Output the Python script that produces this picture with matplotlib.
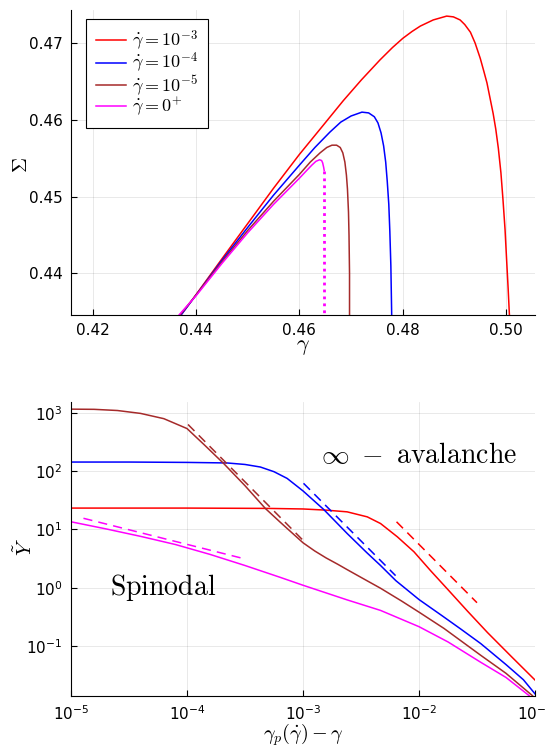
import numpy as np
import matplotlib
matplotlib.use("Agg")
from matplotlib import pyplot as plt

plt.rcParams['mathtext.fontset'] = 'cm'
plt.rcParams['font.family'] = ['DejaVu Sans']

RED = '#FF0000'
BLUE = '#0000FF'
BROWN = '#A52A2A'
MAGENTA = '#FF00FF'

# ---- top panel: stress vs strain ----
gamma_red = [0.4355, 0.4392, 0.4450, 0.4500, 0.4550, 0.4600, 0.4645, 0.4685, 0.4720, 0.4756,
             0.4780, 0.4800, 0.4818, 0.4834, 0.4859, 0.4885, 0.4898, 0.4911, 0.4920, 0.4931,
             0.4940, 0.4950, 0.4957, 0.4963, 0.4969, 0.4975, 0.4980, 0.4985, 0.4990, 0.4994,
             0.4998, 0.5001, 0.5004, 0.5006, 0.5008]
sigma_red = [0.4332, 0.4365, 0.4419, 0.4465, 0.4511, 0.4555, 0.4592, 0.4625, 0.4652, 0.4678,
             0.4694, 0.4706, 0.4715, 0.4722, 0.4730, 0.4735, 0.4734, 0.4730, 0.4724, 0.4714,
             0.4700, 0.4680, 0.4663, 0.4648, 0.4628, 0.4608, 0.4588, 0.4563, 0.4531, 0.4496,
             0.4457, 0.4418, 0.4380, 0.4352, 0.4325]

gamma_blue = [0.4356, 0.4371, 0.4400, 0.4450, 0.4500, 0.4550, 0.4600, 0.4630, 0.4659, 0.4680,
              0.4700, 0.4721, 0.4734, 0.4745, 0.4752, 0.4758, 0.4763, 0.4767, 0.4770, 0.4773,
              0.4775, 0.4777, 0.4778, 0.4779]
sigma_blue = [0.4332, 0.4346, 0.4372, 0.4417, 0.4460, 0.4502, 0.4541, 0.4564, 0.4584, 0.4597,
              0.4605, 0.4610, 0.4609, 0.4604, 0.4596, 0.4583, 0.4566, 0.4545, 0.4520, 0.4490,
              0.4455, 0.4410, 0.4370, 0.4330]

gamma_brown = [0.4355, 0.4369, 0.4400, 0.4450, 0.4500, 0.4550, 0.4600, 0.4621, 0.4640, 0.4653,
               0.4663, 0.4672, 0.4679, 0.4684, 0.4688, 0.4691, 0.4693, 0.4695, 0.4696, 0.4697,
               0.4697]
sigma_brown = [0.4332, 0.4346, 0.4372, 0.4415, 0.4456, 0.4494, 0.4529, 0.4545, 0.4557, 0.4564,
               0.4567, 0.4567, 0.4564, 0.4557, 0.4545, 0.4528, 0.4510, 0.4480, 0.4450, 0.4400,
               0.4330]

gamma_mag = [0.4353, 0.4367, 0.4400, 0.4450, 0.4500, 0.4550, 0.4600, 0.4614, 0.4624, 0.4632,
             0.4639, 0.4643, 0.4645, 0.4647, 0.4648]
sigma_mag = [0.4332, 0.4346, 0.4371, 0.4413, 0.4453, 0.4490, 0.4524, 0.4534, 0.4541, 0.4546,
             0.4548, 0.4547, 0.4544, 0.4538, 0.4534]
gamma_mag_drop = [0.4648, 0.4648]
sigma_mag_drop = [0.4534, 0.4330]

legend_labels = [r'$\dot{\gamma} = 10^{-3}$', r'$\dot{\gamma} = 10^{-4}$',
                 r'$\dot{\gamma} = 10^{-5}$', r'$\dot{\gamma} = 0^{+}$']

# ---- bottom panel: Y tilde vs gamma_p - gamma ----
dx_red = [1e-5, 1e-4, 5.01e-4, 1.0e-3, 1.58e-3, 2.40e-3, 3.58e-3, 4.66e-3, 6.50e-3, 9.04e-3,
          1.26e-2, 1.75e-2, 2.61e-2, 3.89e-2, 6.31e-2, 1.0e-1]
y_red = [23.2, 23.2, 22.9, 22.4, 21.4, 20.0, 16.4, 12.6, 7.46, 4.13,
         1.95, 0.955, 0.398, 0.17, 0.0646, 0.026]

dx_blue = [1e-5, 3.16e-5, 1e-4, 2.21e-4, 3.16e-4, 4.29e-4, 5.62e-4, 7.29e-4, 1.0e-3, 1.51e-3,
           2.40e-3, 3.55e-3, 4.66e-3, 6.31e-3, 1.0e-2, 1.58e-2, 2.29e-2, 3.40e-2, 5.62e-2,
           7.94e-2, 1.016e-1]
y_blue = [143.0, 143.0, 141.0, 138.0, 130.0, 117.5, 97.7, 75.0, 45.7, 21.9,
          8.51, 3.98, 2.40, 1.32, 0.625, 0.33, 0.195, 0.110, 0.0479,
          0.0263, 0.0145]

dx_brown = [1e-5, 1.58e-5, 2.51e-5, 3.98e-5, 6.31e-5, 1e-4, 1.41e-4, 2.07e-4, 3.16e-4, 4.73e-4,
            6.38e-4, 7.94e-4, 1.0e-3, 1.26e-3, 1.58e-3, 2.0e-3, 2.40e-3, 3.55e-3, 4.66e-3,
            7.08e-3, 1.0e-2, 1.64e-2, 3.40e-2, 5.62e-2, 9.51e-2]
y_brown = [1156.0, 1148.0, 1096.0, 977.0, 794.0, 537.0, 282.0, 135.0, 56.2, 22.9,
           13.2, 8.91, 5.89, 4.27, 3.24, 2.51, 2.04, 1.32, 0.977,
           0.589, 0.380, 0.20, 0.0692, 0.0339, 0.0140]

dx_mag = [1e-5, 2.0e-5, 3.98e-5, 7.94e-5, 1.58e-4, 3.16e-4, 6.38e-4, 1.0e-3, 2.40e-3, 4.66e-3,
          1.0e-2, 1.78e-2, 3.40e-2, 5.62e-2, 8.91e-2]
y_mag = [13.5, 10.2, 7.59, 5.50, 3.72, 2.40, 1.50, 1.10, 0.617, 0.407,
         0.214, 0.117, 0.0525, 0.0288, 0.0140]

# power-law guides
dash_mag_x = [1.28e-5, 3.18e-4]
dash_mag_y = [15.5, 3.10]
dash_brown_x = [1.02e-4, 1.01e-3]
dash_brown_y = [631.0, 6.37]
dash_blue_x = [1.01e-3, 6.28e-3]
dash_blue_y = [61.7, 1.61]
dash_red_x = [6.40e-3, 3.16e-2]
dash_red_y = [13.5, 0.552]

fig = plt.figure(figsize=(5.45, 7.48), dpi=100)
ax1 = fig.add_axes([0.1303, 0.5789, 0.8514, 0.4078])
ax2 = fig.add_axes([0.1303, 0.0699, 0.8514, 0.3930])

lw = 1.1
ax1.plot(gamma_red, sigma_red, color=RED, lw=lw, label=legend_labels[0])
ax1.plot(gamma_blue, sigma_blue, color=BLUE, lw=lw, label=legend_labels[1])
ax1.plot(gamma_brown, sigma_brown, color=BROWN, lw=lw, label=legend_labels[2])
ax1.plot(gamma_mag, sigma_mag, color=MAGENTA, lw=lw, label=legend_labels[3])
ax1.plot(gamma_mag_drop, sigma_mag_drop, color=MAGENTA, lw=2.0, ls=(0, (1, 1.5)))

ax1.set_xlim(0.4158, 0.5056)
ax1.set_ylim(0.4346, 0.4743)
ax1.set_xticks([0.42, 0.44, 0.46, 0.48, 0.50])
ax1.set_xticklabels(['0.42', '0.44', '0.46', '0.48', '0.50'])
ax1.set_yticks([0.44, 0.45, 0.46, 0.47])
ax1.set_yticklabels(['0.44', '0.45', '0.46', '0.47'])
ax1.set_xlabel(r'$\gamma$', fontsize=16, labelpad=-1)
ax1.set_ylabel(r'$\Sigma$', fontsize=15)
ax1.yaxis.set_label_coords(-0.086, 0.49)
leg = ax1.legend(loc='upper left', fontsize=13, frameon=True, fancybox=False,
                 edgecolor='black', framealpha=1.0, handlelength=1.7,
                 handletextpad=0.3, borderpad=0.55, labelspacing=-0.1,
                 borderaxespad=0.0, bbox_to_anchor=(0.032, 0.97))
leg.get_frame().set_linewidth(0.8)

ax2.plot(dx_red, y_red, color=RED, lw=lw)
ax2.plot(dx_blue, y_blue, color=BLUE, lw=lw)
ax2.plot(dx_brown, y_brown, color=BROWN, lw=lw)
ax2.plot(dx_mag, y_mag, color=MAGENTA, lw=lw)
dash = (0, (6, 4))
ax2.plot(dash_mag_x, dash_mag_y, color=MAGENTA, lw=lw, ls=dash)
ax2.plot(dash_brown_x, dash_brown_y, color=BROWN, lw=lw, ls=dash)
ax2.plot(dash_blue_x, dash_blue_y, color=BLUE, lw=lw, ls=dash)
ax2.plot(dash_red_x, dash_red_y, color=RED, lw=lw, ls=dash)

ax2.set_xscale('log')
ax2.set_yscale('log')
ax2.set_xlim(1e-5, 1e-1)
ax2.set_ylim(10 ** -1.854, 10 ** 3.19)
ax2.set_xticks([1e-5, 1e-4, 1e-3, 1e-2, 1e-1])
ax2.set_yticks([1e-1, 1e0, 1e1, 1e2, 1e3])
ax2.minorticks_off()
ax2.set_xlabel(r'$\gamma_p(\dot{\gamma}) - \gamma$', fontsize=14.5)
ax2.xaxis.set_label_coords(0.5, -0.088)
ax2.set_ylabel(r'$\tilde{Y}$', fontsize=15)
ax2.yaxis.set_label_coords(-0.076, 0.506)
ax2.text(1.0e-2, 10 ** 2.27, r'$\infty\ -\ \mathrm{avalanche}$', fontsize=20,
         ha='center', va='center')
ax2.text(6.17e-5, 1.02, r'$\mathrm{Spinodal}$', fontsize=20, ha='center', va='center')

for ax in (ax1, ax2):
    ax.grid(True, color='black', alpha=0.1, lw=0.6)
    ax.spines['top'].set_visible(False)
    ax.spines['right'].set_visible(False)
    ax.tick_params(direction='in', length=4, width=0.8, labelsize=11, pad=6)
    ax.set_axisbelow(True)

fig.savefig('out.png', dpi=100)
